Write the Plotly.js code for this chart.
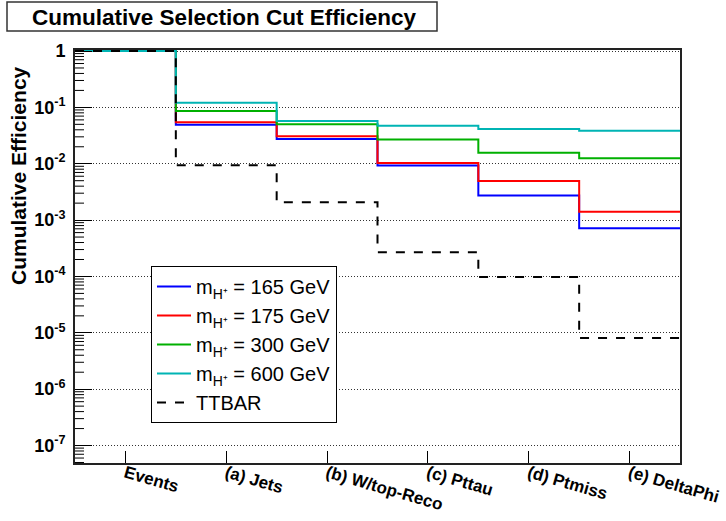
<!DOCTYPE html>
<html>
<head>
<meta charset="utf-8">
<script src="https://cdn.plot.ly/plotly-3.0.1.min.js"></script>
<style>html,body{margin:0;padding:0;background:#fff;}#chart{width:726px;height:521px;}</style>
</head>
<body>
<div id="chart"></div>
<script>
// Selection steps (bins)
const categories = ["Events", "(a) Jets", "(b) W/top-Reco", "(c) Pttau", "(d) Ptmiss", "(e) DeltaPhi"];
// Cumulative efficiencies per step
const eff165 = [1.0, 0.0494, 0.0275, 0.00926, 0.00272, 0.00072];
const eff175 = [1.0, 0.0544, 0.0307, 0.0103, 0.00495, 0.0014];
const eff300 = [1.0, 0.0863, 0.0500, 0.0268, 0.0157, 0.0125];
const eff600 = [1.0, 0.121, 0.0574, 0.0474, 0.0414, 0.0386];
const effTTBAR = [1.0, 0.0094, 0.00208, 0.00027, 0.000098, 0.0000081];
const seriesNames = ["m<sub>H⁺</sub> = 165 GeV", "m<sub>H⁺</sub> = 175 GeV", "m<sub>H⁺</sub> = 300 GeV", "m<sub>H⁺</sub> = 600 GeV", "TTBAR"];
const yTickVals = [1, 1e-1, 1e-2, 1e-3, 1e-4, 1e-5, 1e-6, 1e-7];
const yTickText = ["1", "10<sup>-1</sup>", "10<sup>-2</sup>", "10<sup>-3</sup>", "10<sup>-4</sup>", "10<sup>-5</sup>", "10<sup>-6</sup>", "10<sup>-7</sup>"];

const colors = ["#0000ff", "#ff0000", "#00b000", "#00b4b4", "#000000"];
const dashes = ["solid", "solid", "solid", "solid", "dash"];
const allSeries = [eff165, eff175, eff300, eff600, effTTBAR];

// bin edges 0..N; step drawing with last value repeated to close the last bin
const edges = categories.map((_, i) => i).concat([categories.length]);
const centers = categories.map((_, i) => i + 0.5);

const L = 75, R = 680, T = 50, B = 463;
const W = 726, H = 521;
const pw = R - L, ph = B - T;
const px2x = p => (p - L) / pw;
const py2y = p => (B - p) / ph;
const yRange = [-7.31, 0.018];

// minor log ticks (2..9 per decade) drawn as short inside tick marks - axis decoration only
const minorShapes = [];
for (let d = -8; d <= 0; d++) {
  for (let m = 2; m <= 9; m++) {
    const lv = Math.log10(m) + d;
    if (lv > yRange[0] && lv < yRange[1]) {
      const yp = (lv - yRange[0]) / (yRange[1] - yRange[0]);
      minorShapes.push({
        type: "line", xref: "paper", yref: "paper",
        x0: 0, x1: 9 / pw, y0: yp, y1: yp,
        line: {color: "#000", width: 1}, layer: "above"
      });
    }
  }
}

const traces = allSeries.map((vals, k) => ({
  type: "scatter",
  mode: "lines",
  x: edges,
  y: vals.concat([vals[vals.length - 1]]),
  line: {shape: "hv", color: colors[k], width: 2, dash: dashes[k]},
  name: seriesNames[k],
  hoverinfo: "skip"
}));

const layout = {
  width: W, height: H,
  margin: {l: L, r: W - R, t: T, b: H - B, pad: 0},
  paper_bgcolor: "#ffffff",
  plot_bgcolor: "#ffffff",
  font: {family: "Liberation Sans, Arial, sans-serif", color: "#000"},
  title: {
    text: "Cumulative Selection Cut Efficiency",
    font: {size: 22.5, weight: "bold", color: "#000"},
    x: 224 / W, xanchor: "center", xref: "container",
    y: 1 - 17 / H, yanchor: "middle", yref: "container"
  },
  showlegend: true,
  legend: {
    x: px2x(151), y: py2y(266), xanchor: "left", yanchor: "top",
    bgcolor: "#ffffff", bordercolor: "#000000", borderwidth: 1,
    font: {size: 20, color: "#000"},
    itemwidth: 34,
    tracegroupgap: 0
  },
  xaxis: {
    range: [0, categories.length],
    tickmode: "array",
    tickvals: centers,
    ticktext: categories,
    tickangle: 16,
    ticks: "inside", ticklen: 12, tickwidth: 1, tickcolor: "#000",
    ticklabelstandoff: -8,
    tickfont: {size: 17, weight: "bold", color: "#000"},
    showgrid: false, zeroline: false,
    showline: true, linecolor: "#222", linewidth: 2, mirror: true,
    fixedrange: true
  },
  yaxis: {
    type: "log",
    range: yRange,
    tickmode: "array",
    tickvals: yTickVals,
    ticktext: yTickText,
    ticks: "inside", ticklen: 17, tickwidth: 1, tickcolor: "#000",
    ticklabelstandoff: 4,
    tickfont: {size: 18, weight: "bold", color: "#000"},
    showgrid: true, gridcolor: "#333", gridwidth: 1, griddash: "1px,2px",
    zeroline: false,
    showline: true, linecolor: "#222", linewidth: 2, mirror: true,
    fixedrange: true
  },
  annotations: [{
    text: "Cumulative Efficiency",
    textangle: -90,
    xref: "paper", yref: "paper",
    x: px2x(18), y: py2y(176),
    xanchor: "center", yanchor: "middle",
    showarrow: false,
    font: {size: 21, weight: "bold", color: "#000"}
  }],
  shapes: [{
    type: "rect", xref: "paper", yref: "paper",
    x0: px2x(7), x1: px2x(437), y0: py2y(31), y1: py2y(2),
    line: {color: "#333", width: 1.5}, fillcolor: "rgba(0,0,0,0)", layer: "above"
  }].concat(minorShapes)
};

Plotly.newPlot("chart", traces, layout, {displayModeBar: false, staticPlot: true});
</script>
</body>
</html>
